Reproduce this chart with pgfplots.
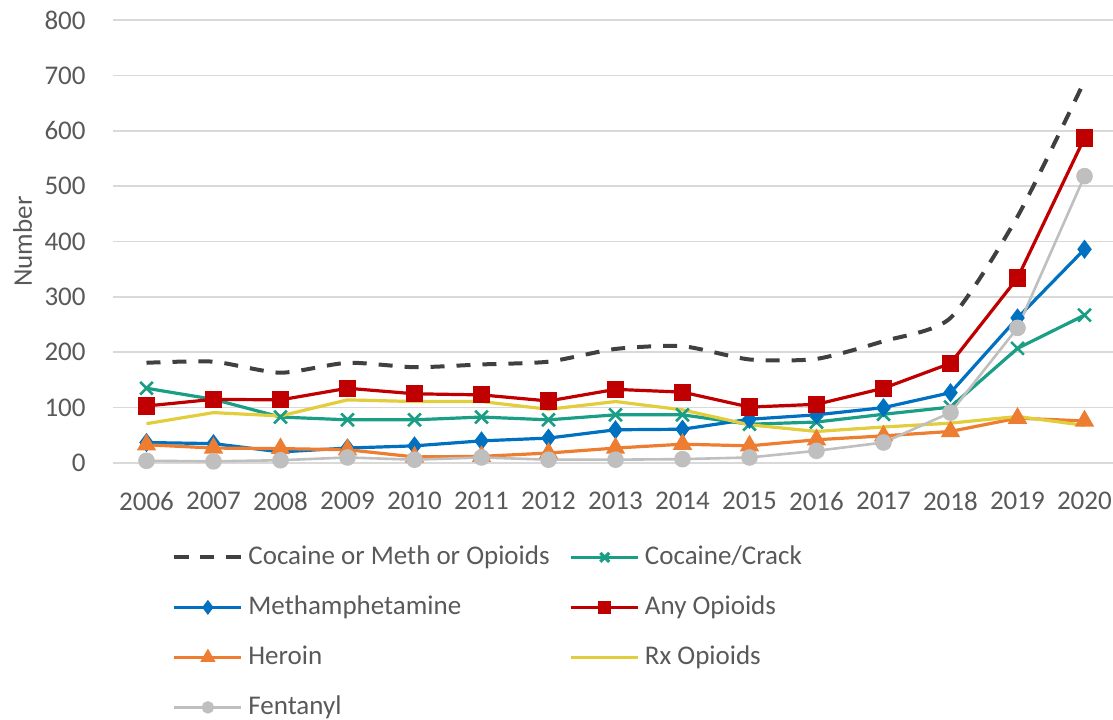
\documentclass[border=0pt]{standalone}
\usepackage{fontspec}
\setmainfont{Carlito}
\usepackage{pgfplots}
\usepackage{pgfplotstable}
\pgfplotsset{compat=1.18}

\definecolor{txt}{RGB}{89,89,89}
\definecolor{gridc}{RGB}{217,217,217}
\definecolor{cmo}{RGB}{64,64,64}
\definecolor{coc}{RGB}{26,158,133}
\definecolor{meth}{RGB}{0,112,192}
\definecolor{opi}{RGB}{192,0,0}
\definecolor{her}{RGB}{237,125,49}
\definecolor{rx}{RGB}{226,205,60}
\definecolor{fen}{RGB}{191,191,191}

% counts per year
\pgfplotstableread{
year cmo coc meth opi her rx fen
2006 181 135 37 103 33 71 4
2007 183 115 35 115 27 91 3
2008 163 83 20 114 26 85 5
2009 181 78 27 135 24 114 10
2010 173 78 31 125 11 111 6
2011 178 83 40 123 12 111 10
2012 183 78 45 112 18 97 6
2013 206 87 60 133 27 111 6
2014 211 87 61 128 34 96 7
2015 187 70 79 101 31 69 10
2016 188 74 87 106 42 57 22
2017 220 88 100 135 49 65 37
2018 262 101 127 180 57 72 91
2019 445 207 262 334 81 84 244
2020 690 267 386 587 76 68 518
}\datatable

\begin{document}
\begin{tikzpicture}
\begin{axis}[
    name=ax,
    scale only axis,
    width=502.5pt, height=221.5pt,
    xmin=2005.5, xmax=2020.5,
    ymin=0, ymax=800,
    xtick={2006,...,2020},
    ytick={0,100,...,800},
    /pgf/number format/.cd, 1000 sep={}, assume math mode=true, /pgfplots/.cd,
    axis line style={draw=none},
    major tick length=0pt,
    ymajorgrids,
    grid style={gridc, line width=0.8pt},
    tick label style={font=\fontsize{13.5}{16}\selectfont, text=txt, inner sep=0pt},
    yticklabel style={anchor=east, xshift=-13.5pt},
    xticklabel style={anchor=north, yshift=-14.5pt},
    ylabel={Number},
    ylabel style={at={(axis description cs:-0.0900,0.5)}, anchor=center,
        font=\fontsize{13.5}{16}\selectfont, text=txt, inner sep=0pt},
    legend columns=2,
    legend cell align=left,
    legend style={
        at={(axis description cs:0.0587,-0.1828)}, anchor=north west,
        draw=none, fill=none, inner sep=0pt,
        font=\fontsize{13.5}{16}\selectfont, text=txt,
        row sep=12pt, column sep=0pt,
        nodes={inner sep=0pt, text height=10pt, text depth=3pt},
        /tikz/every odd column/.append style={column sep=2.5pt},
        /tikz/every even column/.append style={column sep=10pt},
    },
    legend image code/.code={
        \draw[mark repeat=2, mark phase=2, mark options={scale=0.7}]
            plot coordinates {(0pt,0pt) (16.75pt,0pt) (33.5pt,0pt)};
    },
]
\addplot[cmo, line width=2pt, dash pattern=on 7pt off 6pt, smooth, tension=0.4]
    table[x=year, y=cmo] {\datatable};
\addlegendentry{Cocaine or Meth or Opioids}
\addplot[coc, line width=1.6pt, mark=x, mark size=4.5pt, mark options={line width=1.3pt}]
    table[x=year, y=coc] {\datatable};
\addlegendentry{Cocaine/Crack}
\addplot[meth, line width=1.6pt, mark=diamond*, mark size=3.5pt]
    table[x=year, y=meth] {\datatable};
\addlegendentry{Methamphetamine}
\addplot[opi, line width=1.6pt, mark=square*, mark size=3.5pt]
    table[x=year, y=opi] {\datatable};
\addlegendentry{Any Opioids}
\addplot[her, line width=1.6pt, mark=triangle*, mark size=4pt]
    table[x=year, y=her] {\datatable};
\addlegendentry{Heroin}
\addplot[rx, line width=1.6pt]
    table[x=year, y=rx] {\datatable};
\addlegendentry{Rx Opioids}
\addplot[fen, line width=1.3pt, mark=*, mark size=3.5pt]
    table[x=year, y=fen] {\datatable};
\addlegendentry{Fentanyl}
\end{axis}
\pgfresetboundingbox
\path (ax.south west) ++(-56.5pt,-128pt) rectangle ++(556.5pt,359.5pt);
\end{tikzpicture}
\end{document}
